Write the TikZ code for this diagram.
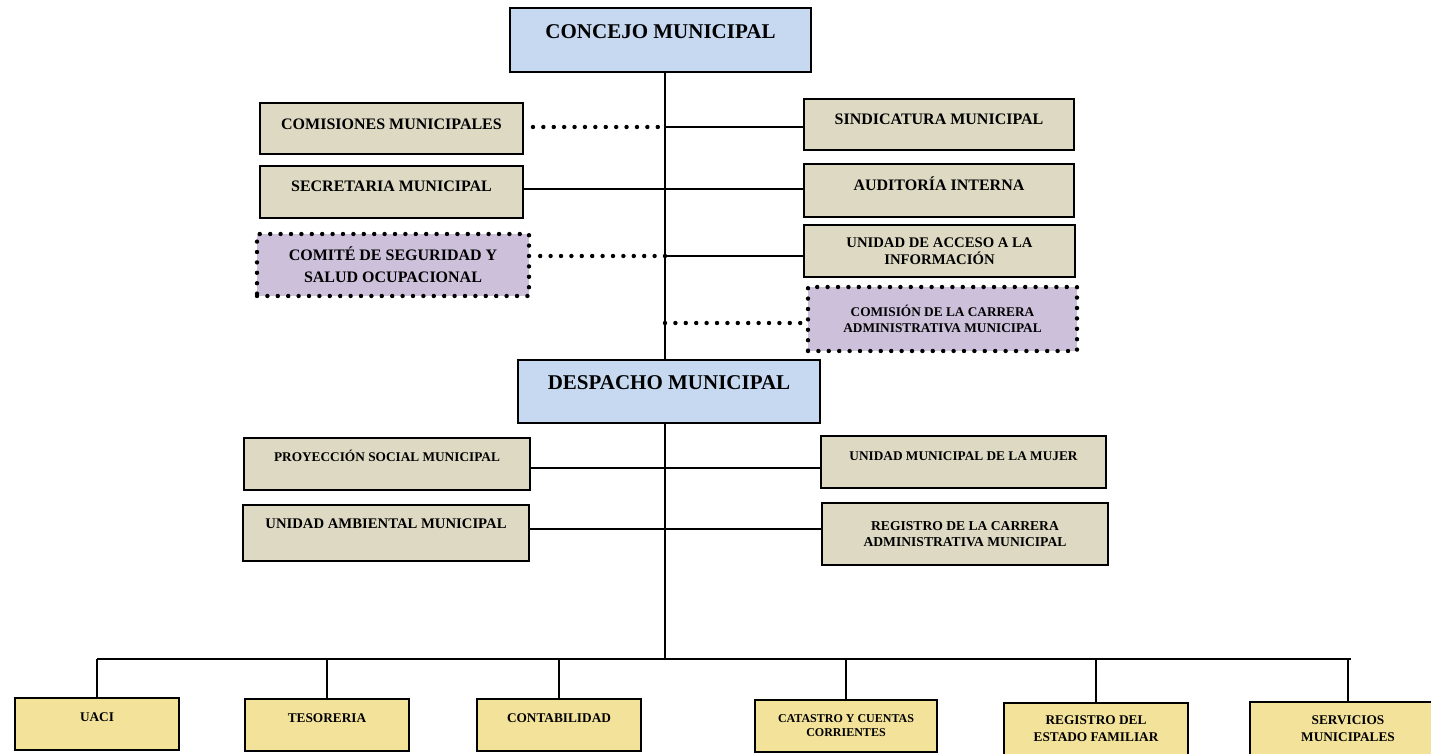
\documentclass[tikz,border=0pt]{standalone}
\usepackage{fontspec}
\setmainfont{Liberation Serif}
\usepackage{tikz}
\usetikzlibrary{arrows,positioning}

\definecolor{azul}{HTML}{C6D9F1}
\definecolor{caqui}{HTML}{DDD9C3}
\definecolor{lila}{HTML}{CCC0DA}
\definecolor{amarillo}{HTML}{F2E29A}

\begin{document}
\begin{tikzpicture}[x=1pt, y=-1pt,
	caja/.style={draw=black, line width=1.9pt, fill=caqui, align=center, inner sep=1pt},
	jefe/.style={caja, fill=azul, line width=2.5pt, font=\bfseries\fontsize{21}{25}\selectfont},
	apoyo/.style={caja, fill=lila, line width=4.4pt, dash pattern=on 0pt off 10.4pt, line cap=round},
	area/.style={caja, fill=amarillo, minimum width=164pt, minimum height=52pt},
	medio/.style={font=\bfseries\fontsize{16}{22}\selectfont},
	chico/.style={font=\bfseries\fontsize{13.3}{16.5}\selectfont},
	lift/.style 2 args={text height=#1, text depth=#2},
	linea/.style={draw=black, line width=1.8pt},
	barra/.style={draw=black, line width=2.6pt},
	puntos/.style={draw=black, line width=4.4pt, dash pattern=on 0pt off 10.4pt, line cap=round}]
		\useasboundingbox (0,0) rectangle (1431,754);

		% nivel superior
		\node[jefe, minimum width=301pt, minimum height=64pt, lift={14pt}{16pt}] (concejo) at (660.5,40) {CONCEJO MUNICIPAL};
		\node[jefe, minimum width=302pt, minimum height=63pt, lift={14pt}{19pt}] (despacho) at (669,391.5) {DESPACHO MUNICIPAL};

		% dependencias del concejo
		\node[caja, medio, minimum width=263pt, minimum height=51pt, lift={10.6pt}{9pt}] (comis) at (391.5,128.5) {COMISIONES MUNICIPALES};
		\node[caja, medio, minimum width=270pt, minimum height=51pt, lift={10.6pt}{11pt}] (sind) at (939,124.5) {SINDICATURA MUNICIPAL};
		\node[caja, medio, minimum width=263pt, minimum height=52pt, lift={10.6pt}{11pt}] (secre) at (391.5,192) {SECRETARIA MUNICIPAL};
		\node[caja, medio, minimum width=270pt, minimum height=53pt, lift={10.6pt}{11pt}] (audit) at (939,190.5) {AUDITORÍA INTERNA};
		\node[apoyo, medio, minimum width=272pt, minimum height=62pt] (comite) at (393,265) {COMITÉ DE SEGURIDAD Y\\SALUD OCUPACIONAL};
		\node[caja, font=\bfseries\fontsize{14.7}{17}\selectfont, minimum width=271pt, minimum height=52pt] (acceso) at (939.5,251) {UNIDAD DE ACCESO A LA\\INFORMACIÓN};
		\node[apoyo, font=\bfseries\fontsize{13.3}{16}\selectfont, minimum width=269pt, minimum height=64pt] (carrera) at (942.5,319) {COMISIÓN DE LA CARRERA\\ADMINISTRATIVA MUNICIPAL};

		% dependencias del despacho
		\node[caja, chico, minimum width=286pt, minimum height=52pt, lift={8.8pt}{14pt}] (proyec) at (387,464) {PROYECCIÓN SOCIAL MUNICIPAL};
		\node[caja, chico, minimum width=285pt, minimum height=52pt, lift={8.8pt}{11pt}] (mujer) at (963.5,462) {UNIDAD MUNICIPAL DE LA MUJER};
		\node[caja, font=\bfseries\fontsize{14.7}{17}\selectfont, minimum width=286pt, minimum height=56pt, lift={9.7pt}{19pt}] (ambien) at (386,533) {UNIDAD AMBIENTAL MUNICIPAL};
		\node[caja, font=\bfseries\fontsize{13.6}{16}\selectfont, minimum width=286pt, minimum height=62pt] (regcarr) at (965,534) {REGISTRO DE LA CARRERA\\ADMINISTRATIVA MUNICIPAL};

		% unidades operativas
		\node[area, chico, lift={8.8pt}{14pt}] (uaci) at (97,724) {UACI};
		\node[area, chico, lift={8.8pt}{14pt}] (teso) at (327,725) {TESORERIA};
		\node[area, chico, lift={8.8pt}{14pt}] (conta) at (559,725) {CONTABILIDAD};
		\node[area, font=\bfseries\fontsize{12}{14}\selectfont, minimum width=182pt] (catas) at (846,726) {CATASTRO Y CUENTAS\\CORRIENTES};
		\node[area, font=\bfseries\fontsize{13.3}{17}\selectfont, minimum width=184pt] (regfam) at (1096,729) {REGISTRO DEL\\ESTADO FAMILIAR};
		\node[area, chico, minimum width=196pt, minimum height=53pt] (servi) at (1348,728.5) {SERVICIOS\\MUNICIPALES};

		% tronco y uniones
		\coordinate (tr) at (665,0);
		\coordinate (j1) at (665,127);
		\coordinate (j2) at (665,189);
		\coordinate (j3) at (665,256);
		\coordinate (j4) at (665,323);
		\coordinate (j5) at (665,468);
		\coordinate (j6) at (665,529);
		\coordinate (bus) at (665,659);

		\draw[linea] (concejo.south -| tr) -- (despacho.north -| tr);
		\draw[linea] (despacho.south -| tr) -- (bus);

		\draw[puntos] ([xshift=9pt]comis.east |- j1) -- (j1);
		\draw[linea] (j1) -- (sind.west |- j1);
		\draw[linea] (secre.east |- j2) -- (audit.west |- j2);
		\draw[puntos] ([xshift=9pt]comite.east |- j3) -- (j3);
		\draw[linea] (j3) -- (acceso.west |- j3);
		\draw[puntos] (j4) -- (carrera.west |- j4);
		\draw[linea] (proyec.east |- j5) -- (mujer.west |- j5);
		\draw[linea] (ambien.east |- j6) -- (regcarr.west |- j6);

		\draw[barra] (uaci.north |- bus) -- ([xshift=3pt]servi.north |- bus);
		\foreach \n in {uaci,teso,conta,catas,regfam,servi}
			\draw[linea] (\n.north) -- (\n.north |- bus);
\end{tikzpicture}
\end{document}
